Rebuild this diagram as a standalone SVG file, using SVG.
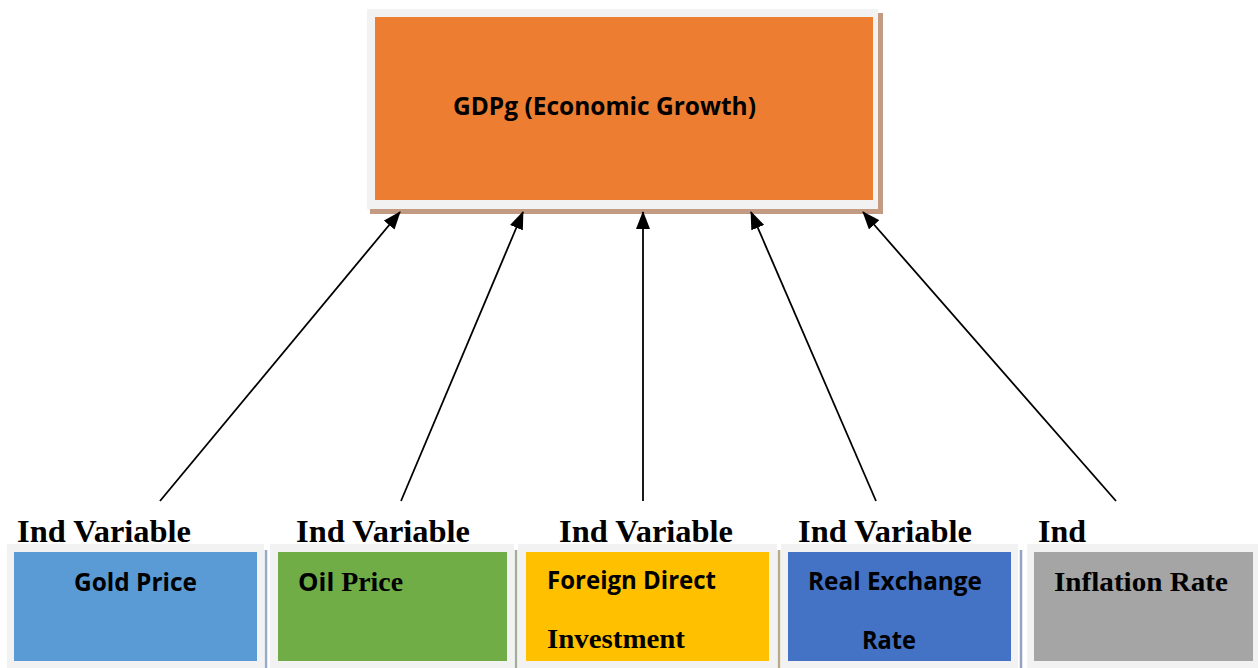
<svg xmlns="http://www.w3.org/2000/svg" width="1258" height="668" viewBox="0 0 1258 668">
  <defs>
    <style>
      .frame { fill: #f2f2f2; }
      .cal { font-family: "Open Sans", "Liberation Sans", Arial, sans-serif; font-weight: bold; font-size: 25px; fill: #000; }
      .tnr { font-family: "Liberation Serif", "Times New Roman", serif; font-weight: bold; fill: #000; }
      .cap { font-size: 32px; }
      .lbl { font-size: 27px; }
      .conn { stroke: #000; stroke-width: 1.8; fill: none; marker-end: url(#head); }
      .sep { stroke-width: 2.5; }
    </style>
    <marker id="head" viewBox="0 0 18 14" refX="17" refY="7" markerWidth="18" markerHeight="14" markerUnits="userSpaceOnUse" orient="auto">
      <path d="M0,0 L18,7 L0,14 Z" fill="#000"/>
    </marker>
  </defs>

  <rect width="1258" height="668" fill="#fff"/>

  <!-- dependent variable -->
  <g id="gdpg">
    <rect x="370" y="13" width="513" height="201" fill="#c39a82"/>
    <rect class="frame" x="367" y="9" width="511" height="200"/>
    <rect x="375" y="17" width="498" height="183" fill="#ed7d31"/>
    <text class="cal" x="453" y="115" textLength="303" lengthAdjust="spacingAndGlyphs">GDPg (Economic Growth)</text>
  </g>

  <!-- connectors -->
  <g id="connectors">
    <line class="conn" x1="160" y1="501" x2="400" y2="212"/>
    <line class="conn" x1="401" y1="501" x2="523" y2="212"/>
    <line class="conn" x1="643" y1="501" x2="643" y2="212"/>
    <line class="conn" x1="876" y1="501" x2="751" y2="212"/>
    <line class="conn" x1="1116" y1="501" x2="863" y2="212"/>
  </g>

  <!-- divider shadows between the lower boxes -->
  <g id="dividers">
    <line class="sep" x1="266" y1="550" x2="266" y2="668" stroke="#97abc6"/>
    <line class="sep" x1="516" y1="550" x2="516" y2="668" stroke="#a3ae9a"/>
    <line class="sep" x1="779" y1="550" x2="779" y2="668" stroke="#b8a98a"/>
    <line class="sep" x1="1021" y1="550" x2="1021" y2="668" stroke="#94a3bf"/>
  </g>

  <g id="gold">
    <text class="tnr cap" x="17" y="542" textLength="174" lengthAdjust="spacingAndGlyphs">Ind Variable</text>
    <rect class="frame" x="7" y="544" width="257" height="124"/>
    <rect x="14" y="552" width="243" height="109" fill="#5b9bd5"/>
    <text class="cal" x="74" y="591" textLength="123" lengthAdjust="spacingAndGlyphs">Gold Price</text>
  </g>

  <g id="oil">
    <text class="tnr cap" x="296" y="542" textLength="174" lengthAdjust="spacingAndGlyphs">Ind Variable</text>
    <rect class="frame" x="270" y="544" width="244" height="124"/>
    <rect x="278" y="552" width="229" height="109" fill="#70ad47"/>
    <text x="298" y="591" textLength="105" lengthAdjust="spacingAndGlyphs"><tspan class="cal">Oil</tspan><tspan class="tnr lbl"> Price</tspan></text>
  </g>

  <g id="fdi">
    <text class="tnr cap" x="559" y="542" textLength="174" lengthAdjust="spacingAndGlyphs">Ind Variable</text>
    <rect class="frame" x="518" y="544" width="259" height="124"/>
    <rect x="526" y="552" width="243" height="109" fill="#ffc000"/>
    <text class="cal" x="547" y="589" textLength="169" lengthAdjust="spacingAndGlyphs">Foreign Direct</text>
    <text class="tnr lbl" x="547" y="648" textLength="138" lengthAdjust="spacingAndGlyphs">Investment</text>
  </g>

  <g id="rer">
    <text class="tnr cap" x="798" y="542" textLength="174" lengthAdjust="spacingAndGlyphs">Ind Variable</text>
    <rect class="frame" x="781" y="544" width="237" height="124"/>
    <rect x="788" y="552" width="223" height="109" fill="#4472c4"/>
    <text class="cal" x="808" y="590" textLength="174" lengthAdjust="spacingAndGlyphs">Real Exchange</text>
    <text class="cal" x="862" y="649" textLength="54" lengthAdjust="spacingAndGlyphs">Rate</text>
  </g>

  <g id="inflation">
    <text class="tnr cap" x="1038" y="542">Ind</text>
    <rect class="frame" x="1027" y="544" width="231" height="124"/>
    <rect x="1034" y="552" width="219" height="109" fill="#a5a5a5"/>
    <text class="tnr lbl" x="1054" y="591" textLength="174" lengthAdjust="spacingAndGlyphs">Inflation Rate</text>
  </g>
</svg>
